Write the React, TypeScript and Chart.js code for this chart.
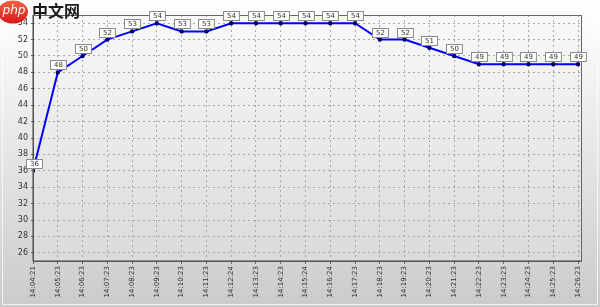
import React, { useEffect, useRef } from "react";
import { Chart, registerables } from "chart.js";

Chart.register(...registerables);

const timeLabels = [
  "14:04:21", "14:05:23", "14:06:23", "14:07:23", "14:08:23", "14:09:23",
  "14:10:23", "14:11:23", "14:12:24", "14:13:23", "14:14:23", "14:15:24",
  "14:16:24", "14:17:23", "14:18:23", "14:19:23", "14:20:23", "14:21:23",
  "14:22:23", "14:23:23", "14:24:23", "14:25:23", "14:26:23",
];
const values = [36, 48, 50, 52, 53, 54, 53, 53, 54, 54, 54, 54, 54, 54, 52, 52, 51, 50, 49, 49, 49, 49, 49];
const yTicks = [26, 28, 30, 32, 34, 36, 38, 40, 42, 44, 46, 48, 50, 52, 54];

const bgPlugin = {
  id: "bgPlugin",
  beforeDraw(chart: any) {
    const { ctx, width, height, chartArea } = chart;
    ctx.save();
    const g = ctx.createLinearGradient(0, 0, 0, height);
    g.addColorStop(0, "#ffffff");
    g.addColorStop(0.1, "#fbfbfb");
    g.addColorStop(1, "#cbcbcb");
    ctx.fillStyle = g;
    ctx.fillRect(0, 0, width, height);
    const g2 = ctx.createLinearGradient(0, chartArea.top, 0, chartArea.bottom);
    g2.addColorStop(0, "#f9f9f9");
    g2.addColorStop(1, "#dadada");
    ctx.fillStyle = g2;
    ctx.fillRect(chartArea.left, chartArea.top, chartArea.right - chartArea.left, chartArea.bottom - chartArea.top);
    ctx.strokeStyle = "rgba(255,255,255,0.7)";
    ctx.lineWidth = 1;
    ctx.strokeRect(2.5, 2.5, width - 5, height - 5);
    ctx.restore();
  },
  afterDatasetsDraw(chart: any) {
    const { ctx, chartArea } = chart;
    ctx.save();
    ctx.strokeStyle = "#666";
    ctx.lineWidth = 1;
    ctx.strokeRect(chartArea.left + 0.5, chartArea.top + 0.5, chartArea.right - chartArea.left, chartArea.bottom - chartArea.top);
    ctx.strokeStyle = "#444";
    ctx.beginPath();
    ctx.moveTo(chartArea.left, chartArea.top);
    ctx.lineTo(chartArea.left, chartArea.bottom);
    ctx.lineTo(chartArea.right, chartArea.bottom);
    ctx.stroke();
    // data labels
    const meta = chart.getDatasetMeta(0);
    ctx.font = "7px 'DejaVu Sans'";
    ctx.textAlign = "center";
    ctx.textBaseline = "middle";
    meta.data.forEach((pt: any, i: number) => {
      const txt = String(values[i]);
      const w = ctx.measureText(txt).width + 7;
      const h = 9;
      const cx = Math.round(pt.x) + (i === 0 ? 1 : 0);
      const bottom = Math.round(pt.y) - 3;
      const x0 = Math.round(cx - w / 2) + 0.5;
      const y0 = bottom - h + 0.5;
      ctx.fillStyle = "#ffffff";
      ctx.fillRect(x0, y0, w, h);
      ctx.strokeStyle = "#8a8a8a";
      ctx.strokeRect(x0, y0, w, h);
      ctx.fillStyle = "#333";
      ctx.fillText(txt, cx + 0.5, y0 + h / 2 + 0.5);
    });
    ctx.restore();
  },
  afterDraw(chart: any) {
    const { ctx } = chart;
    ctx.save();
    // watermark logo
    const g = ctx.createLinearGradient(0, 0, 0, 24);
    g.addColorStop(0, "#f4633f");
    g.addColorStop(1, "#d9161c");
    ctx.fillStyle = g;
    ctx.beginPath();
    ctx.ellipse(13, 12, 15, 11.5, 0, 0, Math.PI * 2);
    ctx.fill();
    ctx.fillStyle = "#ffffff";
    ctx.font = "italic 12px 'DejaVu Sans'";
    ctx.textAlign = "center";
    ctx.textBaseline = "middle";
    ctx.fillText("php", 14, 11);
    ctx.fillStyle = "#1a1a1a";
    ctx.font = "bold 16px 'Noto Sans CJK SC'";
    ctx.textAlign = "left";
    ctx.fillText("中文网", 32, 11);
    ctx.restore();
  },
};

export default function App() {
  const ref = useRef<HTMLCanvasElement>(null);
  useEffect(() => {
    document.body.style.margin = "0";
    const chart = new Chart(ref.current!, {
      type: "line",
      data: {
        datasets: [
          {
            data: values.map((v, i) => ({ x: i, y: v })),
            borderColor: "#0000ff",
            borderWidth: 2,
            pointRadius: 1.2,
            pointBackgroundColor: "#000060",
            pointBorderColor: "#000060",
            tension: 0,
          },
        ],
      },
      options: {
        animation: false,
        responsive: false,
        maintainAspectRatio: false,
        layout: { padding: { top: 15, right: 19, left: 0, bottom: 0 } },
        plugins: { legend: { display: false }, tooltip: { enabled: false } },
        scales: {
          x: {
            type: "linear",
            min: 0,
            max: timeLabels.length - 1 + 0.12,
            afterBuildTicks(scale: any) {
              scale.ticks = timeLabels.map((_, i) => ({ value: i }));
            },
            afterFit(scale: any) {
              scale.height = 46;
            },
            ticks: {
              autoSkip: false,
              minRotation: 90,
              maxRotation: 90,
              padding: 2,
              color: "#333",
              font: { size: 7, family: "'DejaVu Sans'" },
              callback: (v: any) => timeLabels[v] ?? "",
            },
            grid: { color: "#a8a8a8", lineWidth: 1, drawTicks: true, tickLength: 3, tickColor: "#666" },
            border: { display: false, dash: [2, 3] },
          },
          y: {
            min: 25,
            max: 55,
            afterBuildTicks(scale: any) {
              scale.ticks = yTicks.map((v) => ({ value: v }));
            },
            afterFit(scale: any) {
              scale.width = 33;
            },
            ticks: {
              padding: 3,
              color: "#333",
              font: { size: 8, family: "'DejaVu Sans'" },
            },
            grid: { color: "#a8a8a8", lineWidth: 1, drawTicks: true, tickLength: 2, tickColor: "#666" },
            border: { display: false, dash: [2, 3] },
          },
        },
      },
      plugins: [bgPlugin],
    });
    return () => chart.destroy();
  }, []);
  return (
    <div style={{ width: 600, height: 307 }}>
      <canvas ref={ref} width={600} height={307} style={{ display: "block" }} />
    </div>
  );
}
